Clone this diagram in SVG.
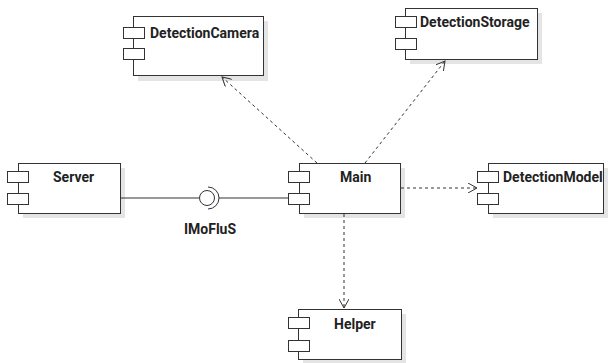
<svg xmlns="http://www.w3.org/2000/svg" width="608" height="363" viewBox="0 0 608 363">
  <style>
    .shadow { fill: #e4e4e4; stroke: none; }
    .box { fill: #ffffff; stroke: #333333; stroke-width: 1; }
    .port { fill: #ffffff; stroke: #333333; stroke-width: 1; }
    .label { font-family: Roboto, "Liberation Sans", sans-serif; font-size: 14px; font-weight: bold; fill: #222222; }
    .dep { fill: none; stroke: #333333; stroke-width: 1; stroke-dasharray: 3 3; }
    .solid { fill: none; stroke: #333333; stroke-width: 1; }
  </style>
  <defs>
    <marker id="open-arrow" viewBox="0 0 10 10" refX="9" refY="5" markerWidth="10" markerHeight="10" markerUnits="userSpaceOnUse" orient="auto">
      <path d="M0,0 L9,5 L0,10" fill="none" stroke="#333333" stroke-width="1"/>
    </marker>
  </defs>
  <rect width="608" height="363" fill="#ffffff"/>

  <g id="detection-camera">
    <rect class="shadow" x="138" y="21" width="130" height="60"/>
    <rect class="box" x="133.5" y="16.5" width="130" height="59"/>
    <rect class="port" x="123.5" y="27.5" width="21" height="11"/>
    <rect class="port" x="123.5" y="48.5" width="21" height="11"/>
    <text class="label" x="150" y="38">DetectionCamera</text>
  </g>

  <g id="detection-storage">
    <rect class="shadow" x="410" y="13" width="132" height="51"/>
    <rect class="box" x="405.5" y="8.5" width="132" height="51"/>
    <rect class="port" x="395.5" y="16.5" width="21" height="11"/>
    <rect class="port" x="395.5" y="38.5" width="21" height="11"/>
    <text class="label" x="420" y="27">DetectionStorage</text>
  </g>

  <g id="server">
    <rect class="shadow" x="23" y="168" width="102" height="50"/>
    <rect class="box" x="18.5" y="163.5" width="102" height="50"/>
    <rect class="port" x="7.5" y="171.5" width="21" height="11"/>
    <rect class="port" x="7.5" y="193.5" width="21" height="11"/>
    <text class="label" x="53" y="182">Server</text>
  </g>

  <g id="main">
    <rect class="shadow" x="304" y="168" width="101" height="50"/>
    <rect class="box" x="299.5" y="163.5" width="101" height="50"/>
    <rect class="port" x="288.5" y="171.5" width="21" height="11"/>
    <rect class="port" x="288.5" y="193.5" width="21" height="11"/>
    <text class="label" x="340" y="182">Main</text>
  </g>

  <g id="detection-model">
    <rect class="shadow" x="493" y="168" width="115" height="50"/>
    <rect class="box" x="488.5" y="163.5" width="115" height="50"/>
    <rect class="port" x="477.5" y="171.5" width="21" height="11"/>
    <rect class="port" x="477.5" y="193.5" width="21" height="11"/>
    <text class="label" x="503" y="182">DetectionModel</text>
  </g>

  <g id="helper">
    <rect class="shadow" x="303" y="314" width="103" height="50"/>
    <rect class="box" x="298.5" y="309.5" width="103" height="50"/>
    <rect class="port" x="288.5" y="317.5" width="21" height="11"/>
    <rect class="port" x="288.5" y="340.5" width="21" height="11"/>
    <text class="label" x="334" y="329">Helper</text>
  </g>

  <!-- dependencies and the provided interface, drawn over the boxes -->
  <g id="connectors">
    <line class="dep" x1="317" y1="163" x2="222" y2="77" marker-end="url(#open-arrow)"/>
    <line class="dep" x1="365" y1="163" x2="445" y2="61" marker-end="url(#open-arrow)"/>
    <line class="dep" x1="401" y1="188" x2="477" y2="188" marker-end="url(#open-arrow)"/>
    <line class="dep" x1="344" y1="214" x2="344" y2="308" marker-end="url(#open-arrow)"/>
    <line class="solid" x1="120" y1="198" x2="199" y2="198"/>
    <circle class="solid" cx="207" cy="198" r="7.5"/>
    <path class="solid" d="M 208 187 A 11 11 0 0 1 208 209" stroke-width="1.5"/>
    <line class="solid" x1="219" y1="198" x2="288" y2="198"/>
    <text class="label" x="210" y="234" text-anchor="middle">IMoFluS</text>
  </g>
</svg>
